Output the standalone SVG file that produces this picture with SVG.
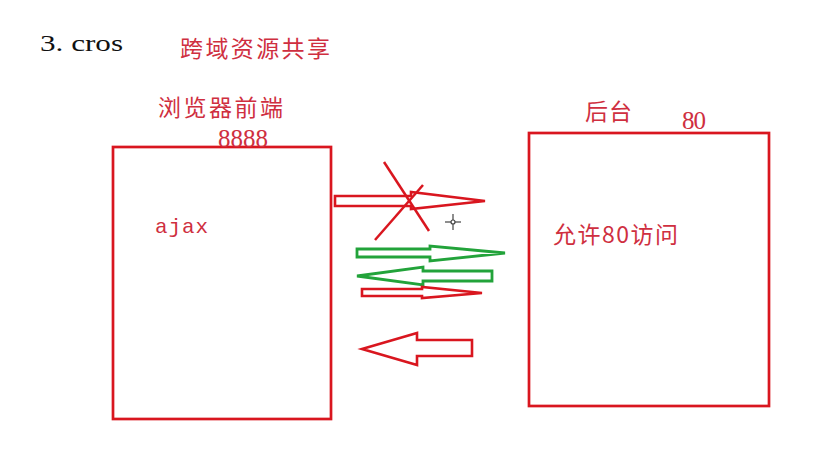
<svg xmlns="http://www.w3.org/2000/svg" width="838" height="450" viewBox="0 0 838 450">
<style>
.box{fill:none;stroke:#d9161f;stroke-width:2.7}
.ar{fill:#fff;stroke:#d9161f;stroke-width:2.6;stroke-linejoin:miter}
.ag{fill:#fff;stroke:#22a33a;stroke-width:2.8;stroke-linejoin:miter}
.cn{font-family:"Noto Sans CJK SC",sans-serif;font-size:23px;fill:#cf2f3f}
.num{font-family:"Liberation Serif",serif;font-size:25px;fill:#cf2f3f}
.mono{font-family:"Liberation Mono",monospace;font-size:21px;fill:#cf2f3f}
</style>
<rect width="838" height="450" fill="#fff"/>
<text x="40" y="51" font-family="Liberation Serif, serif" font-size="24" fill="#111" textLength="83" lengthAdjust="spacingAndGlyphs">3. cros</text>
<text class="cn" x="180" y="57" textLength="150">跨域资源共享</text>
<g id="browser">
<rect class="box" x="113" y="147" width="218" height="272"/>
<text class="cn" x="158" y="116" textLength="125">浏览器前端</text>
<text class="num" x="218" y="147" textLength="50">8888</text>
<text class="mono" x="155" y="233" textLength="53">ajax</text>
</g>
<g id="backend">
<rect class="box" x="529" y="133" width="240" height="273"/>
<text class="cn" x="585" y="120" textLength="47">后台</text>
<text class="num" x="682" y="129" textLength="24">80</text>
<text class="cn" x="553" y="243" textLength="125">允许80访问</text>
</g>
<g id="connectors">
<polygon class="ar" points="335,196 411,196 411,192 485,201 411,209 411,206 335,206"/>
<line x1="384" y1="162" x2="429" y2="231" stroke="#d9161f" stroke-width="2.5"/>
<line x1="423" y1="185" x2="375" y2="240" stroke="#d9161f" stroke-width="2.5"/>
<polygon class="ag" points="357,249 430,249 430,246 505,253 430,261 430,257 357,257"/>
<polygon class="ag" points="357,276 423,267 423,271 492,271 492,281 423,281 423,285"/>
<polygon class="ar" points="362,289 422,289 422,287 482,293 422,298 422,296 362,296"/>
<polygon class="ar" points="362,349 417,333 417,340 472,340 472,356 417,356 417,365"/>
</g>
<g id="cursor" stroke="#444" stroke-width="1.2">
<line x1="445" y1="222" x2="461" y2="222"/>
<line x1="453" y1="214" x2="453" y2="230"/>
<circle cx="453" cy="222" r="2" fill="#fff"/>
</g>
</svg>
